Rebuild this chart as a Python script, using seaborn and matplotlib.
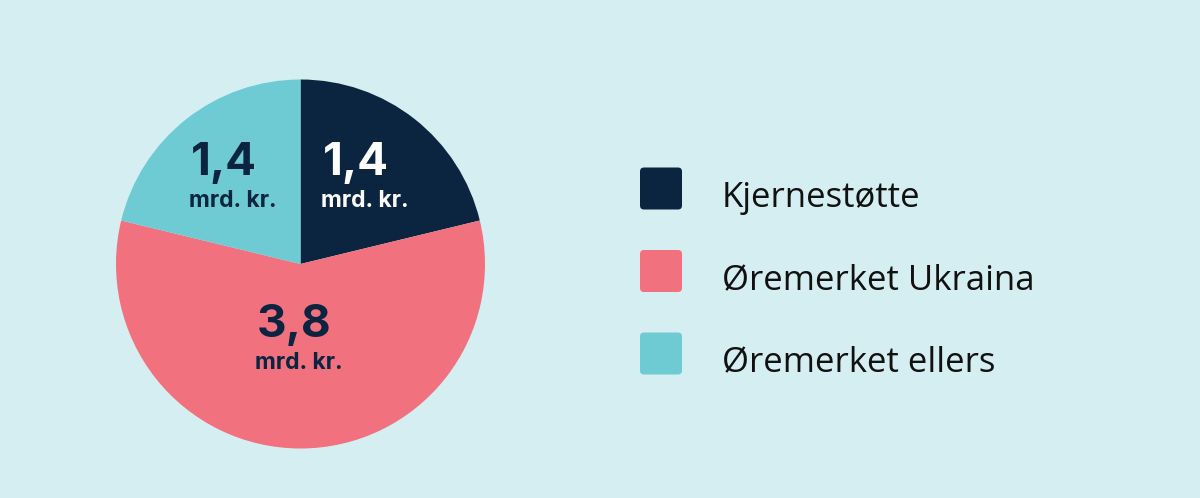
import numpy as np
import matplotlib
matplotlib.use("Agg")
import matplotlib.pyplot as plt
from matplotlib.patches import FancyBboxPatch
import seaborn as sns

# data
categories = ["Kjernestøtte", "Øremerket Ukraina", "Øremerket ellers"]
values = [1.4, 3.8, 1.4]
value_labels = ["1,4", "3,8", "1,4"]
unit_label = "mrd. kr."

colors = ["#0b2541", "#f2717e", "#6fcbd3"]
text_colors = ["white", "#0b2541", "#0b2541"]
bg = "#d5eef1"

sns.set_theme(style="white")
plt.rcParams["font.family"] = ["Inter", "DejaVu Sans"]

W, H = 1200, 498
fig = plt.figure(figsize=(W / 100, H / 100), dpi=100, facecolor=bg)

# background axes in pixel coords for legend
bg_ax = fig.add_axes([0, 0, 1, 1])
bg_ax.set_xlim(0, W)
bg_ax.set_ylim(H, 0)
bg_ax.axis("off")

# pie axes
cx, cy, r = 300.5, 264, 184.5
ax = fig.add_axes([(cx - r) / W, (H - cy - r) / H, 2 * r / W, 2 * r / H])
wedges, _ = ax.pie(values, colors=colors, startangle=90, counterclock=False,
                   radius=1, wedgeprops=dict(linewidth=0))
ax.set_xlim(-1, 1)
ax.set_ylim(-1, 1)
ax.axis("off")

label_r = [0.58, 0.42, 0.58]
for w, lab, tc, lr in zip(wedges, value_labels, text_colors, label_r):
    mid = np.deg2rad((w.theta1 + w.theta2) / 2)
    x, y = lr * np.cos(mid), lr * np.sin(mid)
    left = x - 0.24
    ax.text(left + 0.005, y + 0.09, lab, ha="left", va="center", fontsize=33,
            fontweight="bold", color=tc)
    ax.text(left - 0.005, y - 0.115, unit_label, ha="left", va="center",
            fontsize=16.5, fontweight="bold", color=tc)

# legend
for i, (cat, col) in enumerate(zip(categories, colors)):
    yc = 188.5 + i * 82.5
    bg_ax.add_patch(FancyBboxPatch((640 + 4, yc - 21 + 4), 42 - 8, 42 - 8,
                                   boxstyle="round,pad=4", fc=col, ec="none"))
    bg_ax.text(722, yc + 9, cat, ha="left", va="center", fontsize=25,
               family=["Open Sans", "DejaVu Sans"], color="#111111")

fig.savefig("out.png", dpi=100, facecolor=bg)
